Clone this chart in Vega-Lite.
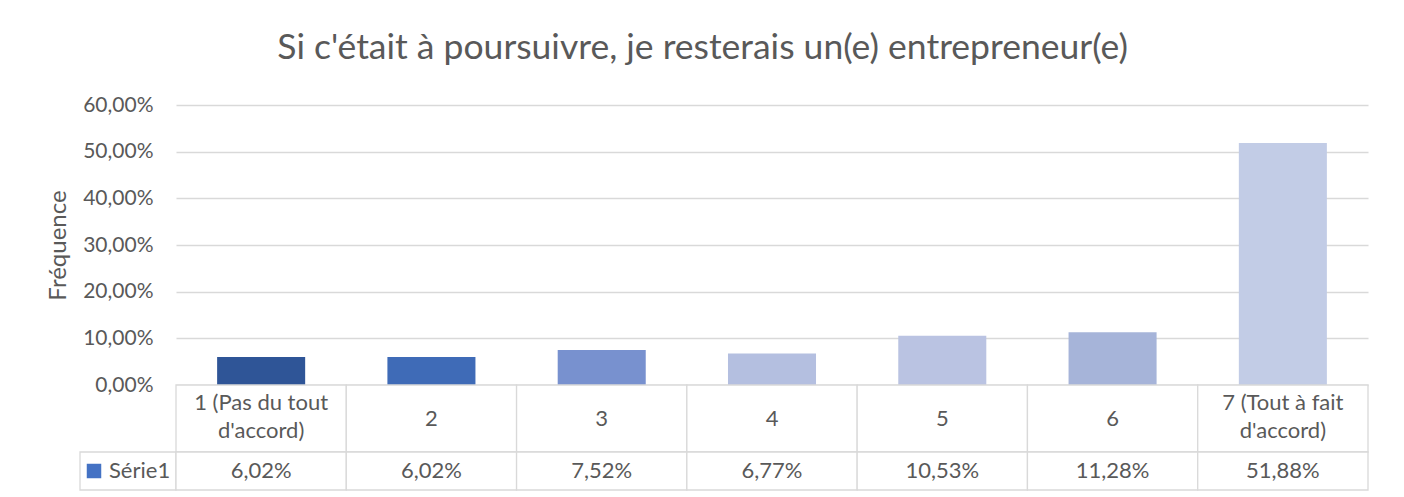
{
  "$schema": "https://vega.github.io/schema/vega-lite/v6.json",
  "padding": {"left": 46, "top": 31, "right": 36, "bottom": 8},
  "background": "white",
  "title": {
    "text": "Si c'était à poursuivre, je resterais un(e) entrepreneur(e)",
    "fontSize": 35.5,
    "fontWeight": "normal",
    "color": "#595959",
    "font": "Lato",
    "anchor": "middle",
    "dx": -5,
    "offset": 27.5
  },
  "datasets": {
    "freq": [
      {"cat": "1 (Pas du tout\nd'accord)", "v": 0.0602},
      {"cat": "2", "v": 0.0602},
      {"cat": "3", "v": 0.0752},
      {"cat": "4", "v": 0.0677},
      {"cat": "5", "v": 0.1053},
      {"cat": "6", "v": 0.1128},
      {"cat": "7 (Tout à fait\nd'accord)", "v": 0.5188}
    ]
  },
  "columns": 2,
  "spacing": 0,
  "bounds": "flush",
  "resolve": {"scale": {"color": "independent", "x": "independent", "y": "independent"}, "legend": {"color": "independent"}},
  "concat": [
    {
      "width": 96, "height": 280,
      "data": {"values": []},
      "mark": {"type": "text", "text": ""},
      "encoding": {}
    },
    {
      "width": 1192, "height": 280,
      "data": {"name": "freq"},
      "mark": {"type": "bar"},
      "encoding": {
        "x": {"field": "cat", "type": "nominal", "sort": null, "axis": null,
              "scale": {"paddingInner": 0.483, "paddingOuter": 0.2415}},
        "y": {"field": "v", "type": "quantitative",
              "scale": {"domain": [0, 0.6], "nice": false},
              "axis": {"values": [0, 0.1, 0.2, 0.3, 0.4, 0.5, 0.6], "format": ".2%",
                       "labelExpr": "replace(datum.label, '.', ',')",
                       "title": "Fréquence", "titleFontSize": 24, "titleFontWeight": "normal",
                       "titleColor": "#595959", "titlePadding": 12,
                       "labelFontSize": 21, "labelColor": "#595959", "labelPadding": 23,
                       "domain": false, "ticks": false,
                       "gridColor": "#d9d9d9", "gridWidth": 1.3}},
        "color": {"field": "cat", "type": "nominal", "sort": null, "legend": null,
                  "scale": {"range": ["#2F5597", "#3F6BB7", "#7891CF", "#B4BFE0", "#BAC3E2", "#A6B4D9", "#C2CCE6"]}}
      }
    },
    {
      "width": 96, "height": 67,
      "data": {"values": []},
      "mark": {"type": "text", "text": ""},
      "encoding": {}
    },
    {
      "width": 1192, "height": 67,
      "data": {"name": "freq"},
      "encoding": {
        "x": {"field": "cat", "type": "nominal", "sort": null, "axis": null,
              "scale": {"paddingInner": 0, "paddingOuter": 0}}
      },
      "layer": [
        {"mark": {"type": "rect", "fill": "white", "stroke": "#d9d9d9", "strokeWidth": 1.3}},
        {"mark": {"type": "text", "fontSize": 22, "color": "#595959", "lineBreak": "\n", "lineHeight": 28,
                  "dy": {"expr": "indexof(datum.cat, '\\n') > 0 ? -16 : 0"}},
         "encoding": {"text": {"field": "cat"}}}
      ]
    },
    {
      "width": 96, "height": 38,
      "data": {"values": [{"s": "Série1"}]},
      "mark": {"type": "rect", "fill": "white", "stroke": "#d9d9d9", "strokeWidth": 1.3},
      "encoding": {
        "x": {"field": "s", "type": "nominal", "axis": null},
        "y": {"field": "s", "type": "nominal", "axis": null}
      }
    },
    {
      "width": 1192, "height": 38,
      "data": {"name": "freq"},
      "encoding": {
        "x": {"field": "cat", "type": "nominal", "sort": null, "axis": null,
              "scale": {"paddingInner": 0, "paddingOuter": 0}}
      },
      "layer": [
        {"mark": {"type": "rect", "fill": "white", "stroke": "#d9d9d9", "strokeWidth": 1.3}},
        {"mark": {"type": "text", "fontSize": 22, "color": "#595959"},
         "encoding": {
           "text": {"field": "v", "type": "quantitative", "format": ".2%"}
         }},
        {"transform": [{"filter": "false"}],
         "mark": {"type": "square", "size": 210, "opacity": 1, "filled": true},
         "encoding": {
           "color": {"datum": "Série1", "type": "nominal",
                     "scale": {"range": ["#4472C4"]},
                     "legend": {"orient": "left", "title": null, "symbolType": "square",
                                "symbolSize": 210, "symbolStrokeWidth": 0, "labelFontSize": 22, "labelColor": "#595959",
                                "labelOffset": 4, "padding": 8, "offset": -3}}
         }}
      ]
    }
  ],
  "config": {
    "font": "Lato",
    "view": {"stroke": null},
    "locale": {"number": {"decimal": ",", "thousands": " ", "grouping": [3], "currency": ["", " €"]}}
  }
}
